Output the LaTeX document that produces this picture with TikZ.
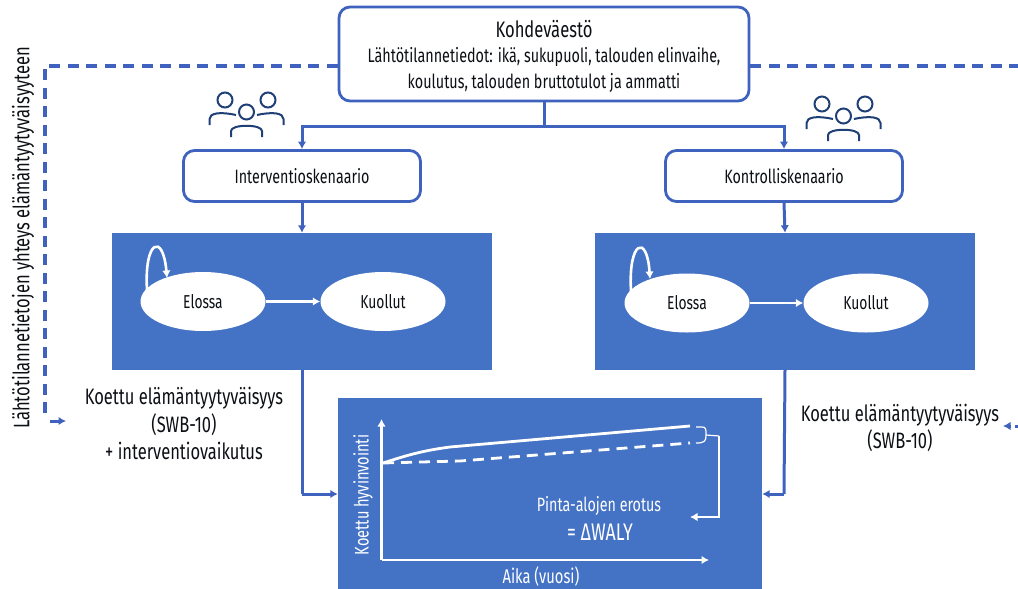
\documentclass[tikz,border=0pt]{standalone}
\usepackage{fontspec}
\setmainfont[FakeStretch=0.74]{Fira Sans}
\usetikzlibrary{arrows.meta,shapes.geometric}
\definecolor{panel}{HTML}{4472C4}
\definecolor{edge}{HTML}{3E62BE}
\definecolor{ink}{HTML}{0C0F14}
\definecolor{icon}{HTML}{1F3F77}
\tikzset{
  every node/.style={text=ink,inner sep=0pt,align=center},
  card/.style={draw=edge,line width=2.8pt,rounded corners=11pt,fill=white},
  panelbox/.style={fill=panel,draw=none},
  state/.style={ellipse,fill=white,draw=none,minimum width=125pt,minimum height=59pt,font=\fontsize{18.7}{20}\selectfont},
  plainline/.style={draw=edge,line width=3pt},
  link/.style={draw=edge,line width=3pt,-{Latex[length=7.5pt,width=8.5pt]}},
  dashlink/.style={draw=edge,line width=3.3pt,dash pattern=on 11pt off 7.5pt},
  whitelink/.style={draw=white,line width=2.6pt,-{Latex[length=7.5pt,width=8.5pt]}},
  paneltext/.style={text=white},
  label/.style={font=\fontsize{22.3}{27.5}\selectfont},
}
\newcommand{\people}[2]{%
 \begin{scope}[shift={(#1,#2)},draw=icon,line width=2pt]
  \draw (0,0) circle (7.5);
  \draw (43,0) circle (7.5);
  \draw (21.5,12) circle (7.5);
  \draw (-15.5,25) -- (-15.5,19) .. controls (-15.5,13) and (-5,11.5) .. (11,15);
  \draw (58.5,25) -- (58.5,19) .. controls (58.5,13) and (48,11.5) .. (32,15);
  \draw (6,37) -- (6,31) .. controls (6,24) and (37,24) .. (37,31) -- (37,37);
 \end{scope}}
\begin{document}
\begin{tikzpicture}[x=1pt,y=-1pt]
\useasboundingbox (0,0) rectangle (1018,589);
% top
\node[card,minimum width=410pt,minimum height=94pt] (top) at (544,54) {};
\node[font=\fontsize{22.4}{24}\selectfont] (toptitle) at (544,29.5) {Kohdeväestö};
\node[font=\fontsize{19.4}{26}\selectfont] (toptext) at (544,69.5) {Lähtötilannetiedot: ikä, sukupuoli, talouden elinvaihe,\\koulutus, talouden bruttotulot ja ammatti};
% scenario cards
\node[card,minimum width=237pt,minimum height=51pt,font=\fontsize{19.3}{20}\selectfont] (int) at (302,176) {Interventioskenaario};
\node[card,minimum width=237pt,minimum height=51pt,font=\fontsize{19.3}{20}\selectfont] (ctl) at (784,176) {Kontrolliskenaario};
% panels
\node[panelbox,minimum width=380pt,minimum height=137pt] (pl) at (302,301.5) {};
\node[panelbox,minimum width=380pt,minimum height=137pt] (pr) at (785,301.5) {};
\node[panelbox,minimum width=424pt,minimum height=191pt] (pb) at (550,493.5) {};
% states
\node[state] (a1) at (203,301.5) {Elossa};
\node[state] (k1) at (383,301.5) {Kuollut};
\node[state] (a2) at (687,303) {Elossa};
\node[state] (k2) at (866,303) {Kuollut};
\draw[whitelink] (a1) -- (k1);
\draw[whitelink] (a2) -- (k2);
\draw[whitelink] (147,290) .. controls (144,240) and (163,232) .. (167,278);
\draw[whitelink] (631,291) .. controls (628,241) and (647,233) .. (650,279);
% connectors
\coordinate (split) at (544,126);
\draw[plainline] (top.south) -- (split);
\draw[link] (split) -| (int.north);
\draw[link] (split) -| (ctl.north);
\draw[link] (int.south) -- (pl.north);
\draw[link] (ctl.south) -- (pr.north);
\coordinate (lout) at (302,494);
\coordinate (rout) at (784,494);
\draw[plainline] (pl.south) -- (lout);
\draw[link] (lout) -- (lout-|pb.west);
\draw[plainline] (pr.south) -- (rout);
\draw[link] (rout) -- (rout-|pb.east);
% dashed
\coordinate (dl) at (45,66);
\coordinate (dld) at (45,418);
\coordinate (dr) at (1018,66);
\draw[dashlink] (top.west|-dl) -- (dl) -- (dld);
\draw[dashlink] (top.east|-dl) -- (dr);
\coordinate (al0) at (50,421);
\coordinate (al1) at (66,421);
\draw[link] (al0) -- (al1);
\coordinate (ar0) at (1010,426);
\coordinate (ar1) at (1003,426);
\coordinate (ar2) at (1018,426);
\coordinate (ar3) at (1015,426);
\draw[link] (ar0) -- (ar1);
\draw[plainline] (ar2) -- (ar3);
% icons
\people{225}{100}
\people{822}{104}
% outside labels
\node[font=\fontsize{22.4}{23}\selectfont,rotate=90] (vert) at (23,238) {Lähtötilannetietojen yhteys elämäntyytyväisyyteen};
\node[label] (ll) at (184,423.5) {Koettu elämäntyytyväisyys\\(SWB-10)\\+ interventiovaikutus};
\node[label] (lr) at (900,428) {Koettu elämäntyytyväisyys\\(SWB-10)};
% chart
\coordinate (o) at (381.5,560);
\coordinate (ytop) at (381.5,419);
\coordinate (xend) at (709,560);
\draw[whitelink] (o) -- (ytop);
\draw[whitelink] (o) -- (xend);
\draw[draw=white,line width=2.8pt] (383,463) .. controls (405,456) and (420,451) .. (450,447) -- (690,426);
\draw[draw=white,line width=2.8pt,dash pattern=on 11pt off 7pt] (383,463) -- (460,461) -- (690,443);
\draw[draw=white,line width=1.2pt] (696,427) -- (702,427) .. controls (706,427) and (706,429) .. (706,435) .. controls (706,441) and (705,443) .. (696,443);
\coordinate (bk) at (706,435);
\coordinate (bc) at (719,436);
\coordinate (bd) at (719,517);
\coordinate (be) at (690,517);
\draw[draw=white,line width=1.2pt] (bk) -- (bc);
\draw[whitelink] (bc) -- (bd) -- (be);
\node[paneltext,font=\fontsize{19.3}{20}\selectfont] (pa) at (599,506) {Pinta-alojen erotus};
\node[paneltext,font=\fontsize{24}{26}\selectfont] (wl) at (600,532) {= ΔWALY};
\node[paneltext,font=\fontsize{19.7}{20}\selectfont,rotate=90] (yl) at (363,495) {Koettu hyvinvointi};
\node[paneltext,font=\fontsize{19.9}{20}\selectfont] (xl) at (541,577) {Aika (vuosi)};
\end{tikzpicture}
\end{document}
